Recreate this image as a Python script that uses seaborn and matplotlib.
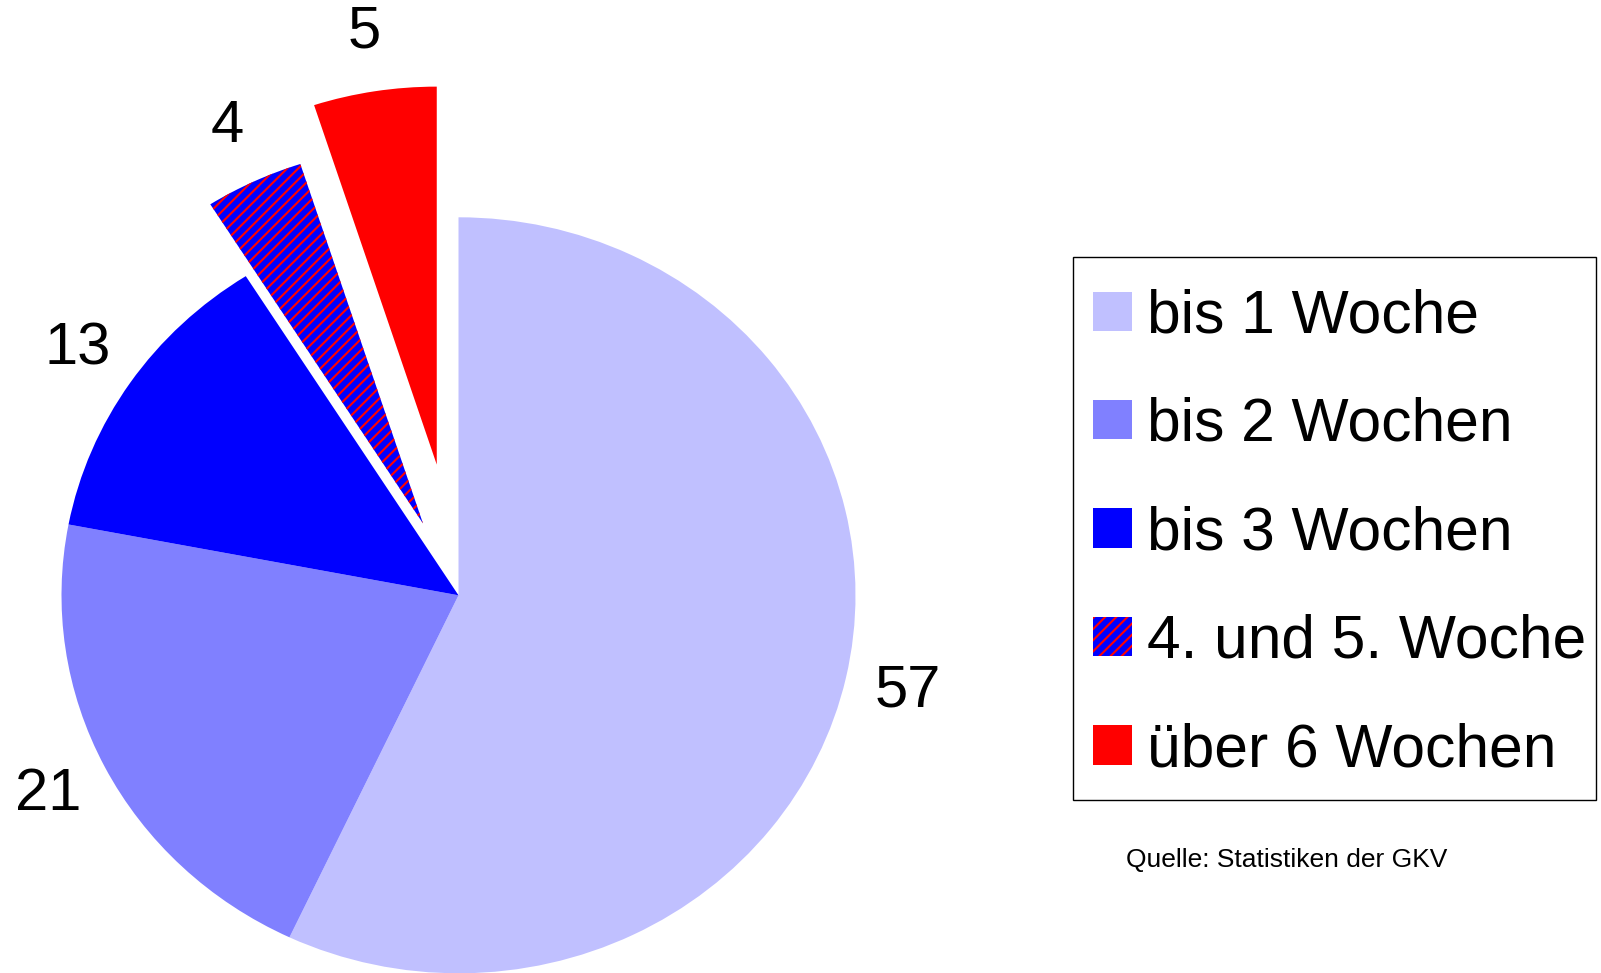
import numpy as np
import pandas as pd
import seaborn as sns
import matplotlib.pyplot as plt
from matplotlib.patches import Rectangle

categories = ['bis 1 Woche', 'bis 2 Wochen', 'bis 3 Wochen', '4. und 5. Woche', 'über 6 Wochen']
values = [57, 21, 13, 4, 5]
colors = ['#C0C0FF', '#8080FF', '#0000FF', '#0000FF', '#FF0000']
explode = [0, 0, 0, 0.21, 0.35]

sns.set_theme(style='white')
plt.rcParams['font.family'] = ['Liberation Sans', 'DejaVu Sans']
plt.rcParams['text.color'] = 'black'
plt.rcParams['hatch.linewidth'] = 1.5

fig = plt.figure(figsize=(16.01, 9.73), dpi=100)
ax = fig.add_axes([0, 0, 1, 1])

wedges, texts, autotexts = ax.pie(values, labels=categories, colors=colors, explode=explode,
                                  startangle=90, counterclock=False, labeldistance=None,
                                  autopct='%.0f', pctdistance=1.16,
                                  wedgeprops=dict(linewidth=0))
wedges[3].set_hatch('///')
wedges[3].set_edgecolor('#FF0000')

for t, v in zip(autotexts, values):
    t.set_text(str(v))
    t.set_fontsize(43)
    t.set_color('black')

# slightly oval pie, placed in the left part of the figure
ax.set_aspect('auto')
ax.set_xlim(-458.5 / 397, (1601 - 458.5) / 397)
ax.set_ylim(-(973 - 595.3) / 378, 595.3 / 378)
ax.axis('off')

# legend box drawn separately (the right padding is tighter than the left)
fig.patches.append(Rectangle((1073 / 1601, 1 - 799.5 / 973), 523 / 1601, 542.2 / 973,
                             transform=fig.transFigure, facecolor='white',
                             edgecolor='black', linewidth=1))

leg = fig.legend(handles=wedges, labels=categories, loc='upper left',
                 bbox_to_anchor=(1073 / 1601, 1 - 268.5 / 973), borderaxespad=0,
                 fontsize=43.6, frameon=False, handlelength=0.65, handleheight=0.62,
                 handletextpad=0.25, borderpad=0.33, labelspacing=0.85)
for t in leg.get_texts():
    t.set_color('black')

fig.text(1286.6 / 1601, 1 - 859.5 / 973, 'Quelle: Statistiken der GKV',
         fontsize=19, ha='center', va='center', color='black')

plt.savefig('out.png', dpi=100)
